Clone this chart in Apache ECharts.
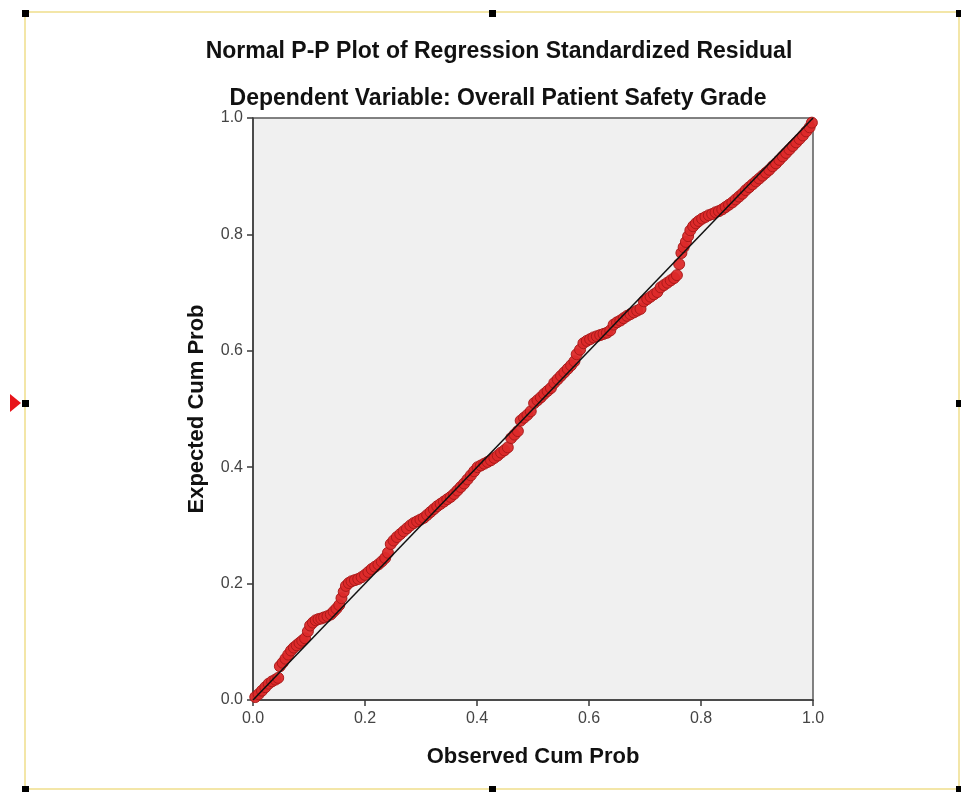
<!DOCTYPE html>
<html>
<head>
<meta charset="utf-8">
<script src="https://cdn.jsdelivr.net/npm/echarts@6/dist/echarts.min.js"></script>
<style>
html,body{margin:0;padding:0;background:#fff;}
#chart{width:961px;height:792px;}
</style>
</head>
<body>
<div id="chart"></div>
<script>
const titleText = 'Normal P-P Plot of Regression Standardized Residual';
const subtitleText = 'Dependent Variable: Overall Patient Safety Grade';
const xAxisName = 'Observed Cum Prob';
const yAxisName = 'Expected Cum Prob';
const tickValues = [0, 0.2, 0.4, 0.6, 0.8, 1.0];

const observedCumProb = [
0.004,0.010,0.016,0.022,0.028,0.034,0.040,0.045,0.048,0.053,0.058,0.063,0.068,0.073,0.078,0.083,0.088,0.093,0.098,
0.102,0.107,0.112,0.117,0.122,0.127,0.133,0.139,0.144,0.149,0.154,0.158,0.162,0.166,0.171,0.176,0.182,0.188,0.194,
0.200,0.206,0.212,0.218,0.224,0.230,0.236,0.241,0.246,0.251,0.257,0.263,0.269,0.275,0.281,0.287,0.293,0.299,
0.305,0.311,0.317,0.323,0.329,0.335,0.341,0.347,0.353,0.359,0.365,0.371,0.377,0.383,0.389,0.395,
0.401,0.407,0.413,0.419,0.425,0.431,0.437,0.443,0.449,0.455,0.461,0.467,0.473,0.478,0.484,0.490,0.496,
0.502,0.508,0.514,0.520,0.526,0.532,0.538,0.544,0.550,0.556,0.562,0.568,0.574,0.578,0.584,0.590,0.596,
0.602,0.608,0.614,0.620,0.626,0.632,0.638,0.644,0.650,0.656,0.662,0.668,0.674,0.680,0.686,0.692,0.698,
0.704,0.710,0.716,0.722,0.728,0.734,0.740,0.746,0.752,0.757,0.761,0.765,0.769,0.773,0.777,0.781,0.786,0.791,0.796,
0.802,0.808,0.814,0.820,0.826,0.832,0.838,0.844,0.850,0.856,0.862,0.868,0.874,0.880,0.886,0.892,0.898,
0.904,0.910,0.916,0.922,0.928,0.934,0.940,0.946,0.952,0.958,0.964,0.970,0.976,0.982,0.988,0.994,0.998
];
const expectedCumProb = [
0.005,0.010,0.016,0.022,0.028,0.032,0.035,0.038,0.058,0.064,0.071,0.078,0.085,0.090,0.094,0.098,0.102,0.106,0.118,
0.128,0.133,0.137,0.139,0.140,0.142,0.144,0.147,0.152,0.157,0.163,0.175,0.186,0.196,0.201,0.204,0.206,0.208,0.211,
0.215,0.220,0.225,0.229,0.233,0.238,0.244,0.253,0.268,0.274,0.280,0.285,0.290,0.295,0.300,0.304,0.307,0.310,
0.313,0.318,0.323,0.328,0.333,0.337,0.341,0.345,0.349,0.354,0.360,0.366,0.372,0.379,0.386,0.393,
0.400,0.403,0.406,0.409,0.412,0.416,0.420,0.425,0.429,0.434,0.450,0.456,0.462,0.480,0.485,0.490,0.496,
0.510,0.515,0.520,0.526,0.531,0.536,0.545,0.551,0.557,0.563,0.569,0.575,0.582,0.594,0.602,0.613,0.617,
0.620,0.623,0.625,0.627,0.629,0.631,0.635,0.645,0.649,0.652,0.656,0.660,0.663,0.666,0.669,0.672,0.685,
0.689,0.693,0.697,0.701,0.709,0.713,0.717,0.721,0.725,0.730,0.749,0.768,0.778,0.787,0.797,0.807,0.814,0.819,0.823,
0.827,0.830,0.833,0.835,0.838,0.840,0.843,0.847,0.851,0.855,0.860,0.865,0.870,0.876,0.881,0.886,0.891,
0.896,0.901,0.906,0.911,0.917,0.922,0.928,0.934,0.940,0.946,0.952,0.958,0.964,0.970,0.977,0.984,0.992
];
const referenceLine = [[0, 0], [1, 1]];

const points = observedCumProb.map((x, i) => [x, expectedCumProb[i]]);

const chart = echarts.init(document.getElementById('chart'), null, {renderer: 'canvas'});
const fontFamily = '"Liberation Sans", Arial, sans-serif';

const axisCommon = {
  type: 'value', min: 0, max: 1, interval: 0.2,
  axisLine: {show: true, lineStyle: {color: '#3a3a3a', width: 1.5}},
  axisTick: {show: true, inside: false, length: 6, lineStyle: {color: '#3a3a3a', width: 1.5}},
  splitLine: {show: false},
  axisLabel: {color: '#444', fontSize: 16, fontFamily: fontFamily, formatter: v => v.toFixed(1)},
  nameLocation: 'middle',
  nameTextStyle: {color: '#111', fontSize: 22, fontWeight: 'bold', fontFamily: fontFamily}
};

const frameColor = '#f3e6a8';
const handles = [[25,13],[492,13],[959,13],[25,403],[959,403],[25,789],[492,789],[959,789]];

chart.setOption({
  backgroundColor: '#ffffff',
  animation: false,
  title: [
    {text: titleText, left: 494, top: 35, textAlign: 'center',
     textStyle: {fontSize: 23, fontWeight: 'bold', color: '#111', fontFamily: fontFamily}},
    {text: subtitleText, left: 493, top: 82, textAlign: 'center',
     textStyle: {fontSize: 23, fontWeight: 'bold', color: '#111', fontFamily: fontFamily}}
  ],
  grid: {left: 253, top: 118, width: 560, height: 582, show: true,
         backgroundColor: '#f0f0f0', borderColor: '#5a5a5a', borderWidth: 1.5},
  xAxis: Object.assign({}, axisCommon, {name: xAxisName, nameGap: 46,
     axisLabel: Object.assign({}, axisCommon.axisLabel, {margin: 11})}),
  yAxis: Object.assign({}, axisCommon, {name: yAxisName, nameGap: 45,
     axisLabel: Object.assign({}, axisCommon.axisLabel, {margin: 10})}),
  series: [
    {type: 'scatter', data: points, symbol: 'circle', symbolSize: 11, z: 2,
     itemStyle: {color: '#dc2a2a', borderColor: '#a81818', borderWidth: 1, opacity: 0.95}},
    {type: 'line', data: referenceLine, showSymbol: false, symbol: 'none', z: 3,
     lineStyle: {color: '#111', width: 1.5}, silent: true}
  ],
  graphic: [
    {type: 'rect', shape: {x: 25, y: 12, width: 934, height: 777}, z: -10,
     style: {fill: 'none', stroke: frameColor, lineWidth: 2}},
    ...handles.map(h => ({type: 'rect', shape: {x: h[0]-3, y: h[1]-3, width: 7, height: 7},
       style: {fill: '#000'}, z: 10})),
    {type: 'polygon', shape: {points: [[10, 394], [21, 403], [10, 412]]}, style: {fill: '#e8141a'}, z: 10}
  ]
});
</script>
</body>
</html>
